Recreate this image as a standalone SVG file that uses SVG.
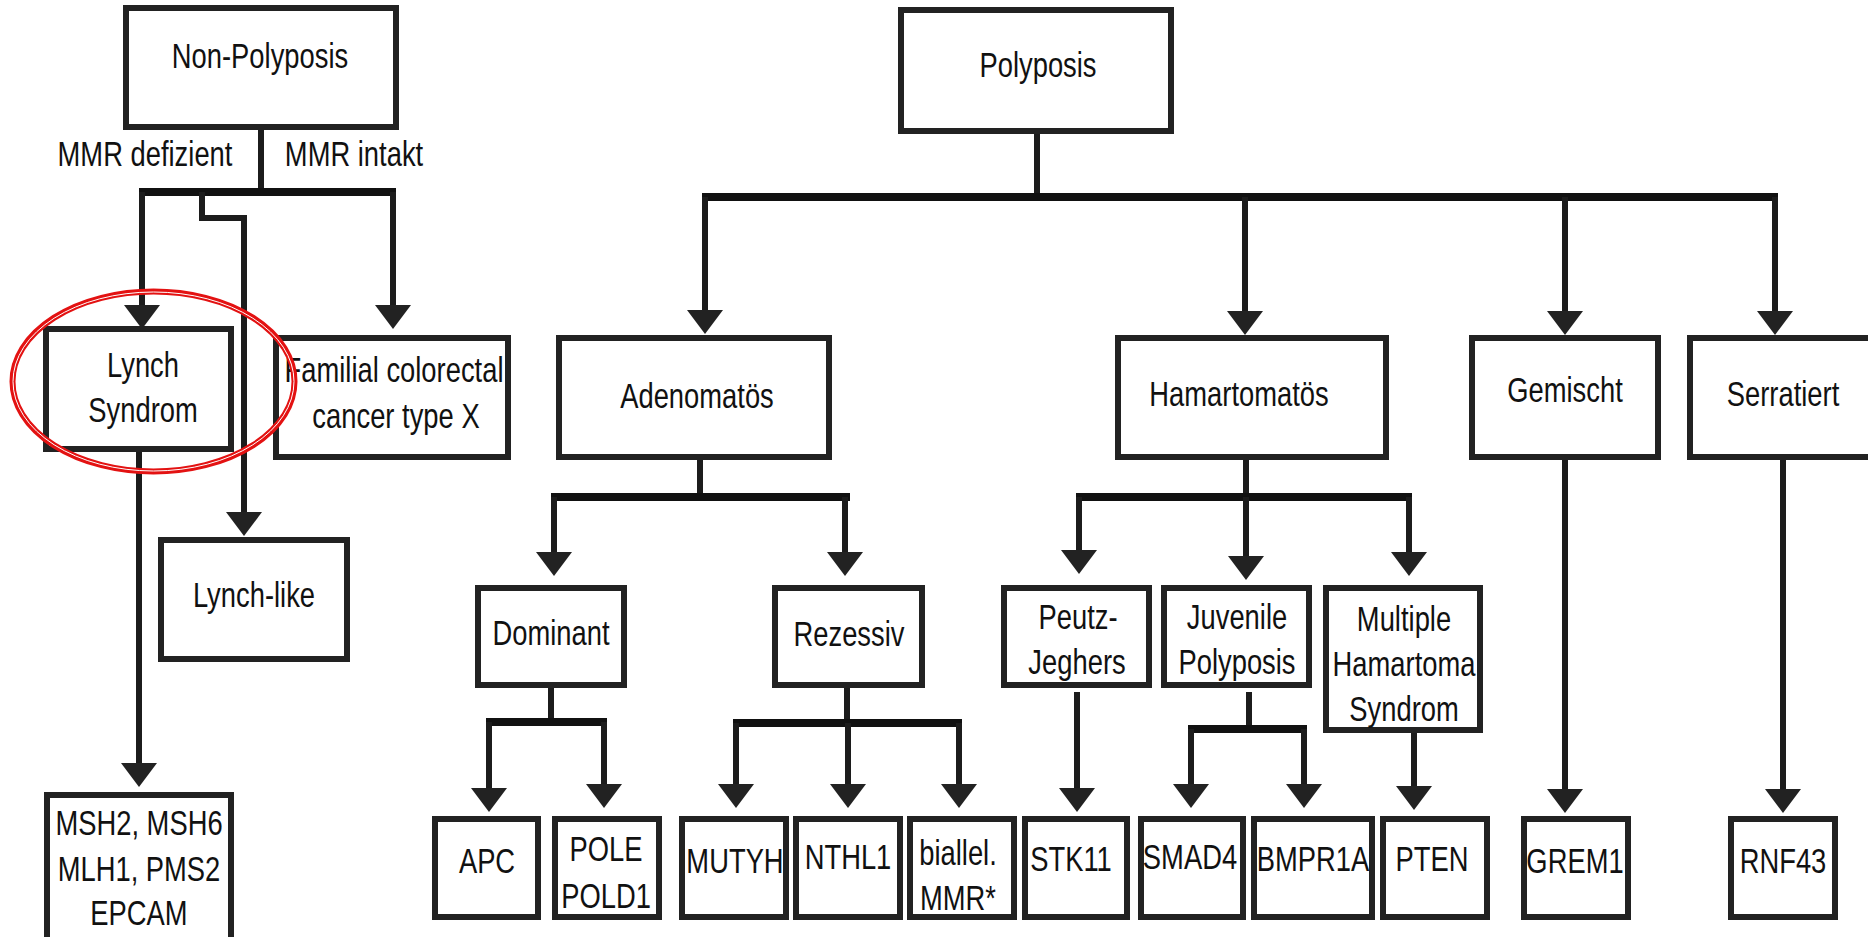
<svg xmlns="http://www.w3.org/2000/svg" width="1868" height="937" viewBox="0 0 1868 937">
<style>
.box{fill:#fff;stroke:#222;stroke-width:6}
.c{fill:none;stroke:#1c1c1c;stroke-width:6}
.bar{fill:none;stroke:#111;stroke-width:8}
.a{fill:none;stroke:#1c1c1c;stroke-width:6;marker-end:url(#ah)}
text{font-family:"Liberation Sans",Arial,sans-serif;font-size:36px;fill:#111;text-anchor:middle}
</style>
<defs>
<marker id="ah" markerUnits="strokeWidth" markerWidth="4" markerHeight="6" viewBox="0 0 4 6" refX="0" refY="3" orient="auto">
<path d="M0,0 L4,3 L0,6 z" fill="#222"/>
</marker>
</defs>
<rect width="1868" height="937" fill="#fff"/>
<g id="connectors">
<path class="c" d="M261,130 V192"/>
<path class="bar" d="M139,192 H396"/>
<path class="a" d="M142,192 V305"/>
<path class="a" d="M202,192 V218 H244 V512"/>
<path class="a" d="M393,192 V305"/>
<path class="a" d="M139,452 V763"/>
<path class="c" d="M1037,134 V197"/>
<path class="bar" d="M702,197 H1778"/>
<path class="a" d="M705,197 V310"/>
<path class="a" d="M1245,197 V311"/>
<path class="a" d="M1565,197 V311"/>
<path class="a" d="M1775,197 V311"/>
<path class="c" d="M700,460 V497"/>
<path class="bar" d="M551,497 H850"/>
<path class="a" d="M554,497 V552"/>
<path class="a" d="M845,497 V552"/>
<path class="c" d="M551,688 V722"/>
<path class="bar" d="M486,722 H607"/>
<path class="a" d="M489,722 V788"/>
<path class="a" d="M604,722 V784"/>
<path class="c" d="M847,688 V723"/>
<path class="bar" d="M733,723 H962"/>
<path class="a" d="M736,723 V784"/>
<path class="a" d="M848,723 V784"/>
<path class="a" d="M959,723 V784"/>
<path class="c" d="M1246,460 V497"/>
<path class="bar" d="M1076,497 H1412"/>
<path class="a" d="M1079,497 V550"/>
<path class="a" d="M1246,497 V556"/>
<path class="a" d="M1409,497 V552"/>
<path class="a" d="M1077,692 V788"/>
<path class="c" d="M1249,692 V729"/>
<path class="bar" d="M1188,729 H1307"/>
<path class="a" d="M1191,729 V784"/>
<path class="a" d="M1304,729 V784"/>
<path class="a" d="M1414,733 V786"/>
<path class="a" d="M1565,460 V789"/>
<path class="a" d="M1783,460 V789"/>
</g>
<g id="n-nonpolyposis"><rect class="box" x="126" y="8" width="270" height="119"/>
<text transform="translate(260,68) scale(0.76,1)">Non-Polyposis</text></g>
<g id="l-mmr-def"><text transform="translate(145,166) scale(0.76,1)">MMR defizient</text></g>
<g id="l-mmr-int"><text transform="translate(354,166) scale(0.76,1)">MMR intakt</text></g>
<g id="n-polyposis"><rect class="box" x="901" y="10" width="270" height="121"/>
<text transform="translate(1038,77) scale(0.76,1)">Polyposis</text></g>
<g id="n-lynch"><rect class="box" x="46" y="329" width="185" height="120"/>
<text transform="translate(143,377) scale(0.76,1)">Lynch</text>
<text transform="translate(143,422) scale(0.76,1)">Syndrom</text></g>
<g id="n-familial"><rect class="box" x="276" y="338" width="232" height="119"/>
<text transform="translate(394,382) scale(0.76,1)">Familial colorectal</text>
<text transform="translate(396,428) scale(0.76,1)">cancer type X</text></g>
<g id="n-lynchlike"><rect class="box" x="161" y="540" width="186" height="119"/>
<text transform="translate(254,607) scale(0.76,1)">Lynch-like</text></g>
<g id="n-msh"><rect class="box" x="47" y="795" width="184" height="170"/>
<text transform="translate(139,835) scale(0.76,1)">MSH2, MSH6</text>
<text transform="translate(139,881) scale(0.76,1)">MLH1, PMS2</text>
<text transform="translate(139,925) scale(0.76,1)">EPCAM</text></g>
<g id="n-adenomatos"><rect class="box" x="559" y="338" width="270" height="119"/>
<text transform="translate(697,408) scale(0.76,1)">Adenomatös</text></g>
<g id="n-hamartomatos"><rect class="box" x="1118" y="338" width="268" height="119"/>
<text transform="translate(1239,406) scale(0.76,1)">Hamartomatös</text></g>
<g id="n-gemischt"><rect class="box" x="1472" y="338" width="186" height="119"/>
<text transform="translate(1565,402) scale(0.76,1)">Gemischt</text></g>
<g id="n-serratiert"><rect class="box" x="1690" y="338" width="190" height="119"/>
<text transform="translate(1783,406) scale(0.76,1)">Serratiert</text></g>
<g id="n-dominant"><rect class="box" x="478" y="588" width="146" height="97"/>
<text transform="translate(551,645) scale(0.76,1)">Dominant</text></g>
<g id="n-rezessiv"><rect class="box" x="775" y="588" width="147" height="97"/>
<text transform="translate(849,646) scale(0.76,1)">Rezessiv</text></g>
<g id="n-peutz"><rect class="box" x="1004" y="588" width="145" height="97"/>
<text transform="translate(1078,629) scale(0.76,1)">Peutz-</text>
<text transform="translate(1077,674) scale(0.76,1)">Jeghers</text></g>
<g id="n-juvenile"><rect class="box" x="1164" y="588" width="145" height="97"/>
<text transform="translate(1237,629) scale(0.76,1)">Juvenile</text>
<text transform="translate(1237,674) scale(0.76,1)">Polyposis</text></g>
<g id="n-multiple"><rect class="box" x="1326" y="588" width="154" height="142"/>
<text transform="translate(1404,631) scale(0.76,1)">Multiple</text>
<text transform="translate(1404,676) scale(0.76,1)">Hamartoma</text>
<text transform="translate(1404,721) scale(0.76,1)">Syndrom</text></g>
<g id="n-apc"><rect class="box" x="435" y="819" width="103" height="98"/>
<text transform="translate(487,873) scale(0.76,1)">APC</text></g>
<g id="n-pole"><rect class="box" x="555" y="819" width="104" height="98"/>
<text transform="translate(606,861) scale(0.76,1)">POLE</text>
<text transform="translate(606,908) scale(0.76,1)">POLD1</text></g>
<g id="n-mutyh"><rect class="box" x="682" y="819" width="104" height="98"/>
<text transform="translate(735,873) scale(0.76,1)">MUTYH</text></g>
<g id="n-nthl1"><rect class="box" x="796" y="819" width="104" height="98"/>
<text transform="translate(848,869) scale(0.76,1)">NTHL1</text></g>
<g id="n-biallel"><rect class="box" x="910" y="819" width="104" height="98"/>
<text transform="translate(958,865) scale(0.76,1)">biallel.</text>
<text transform="translate(958,910) scale(0.76,1)">MMR*</text></g>
<g id="n-stk11"><rect class="box" x="1025" y="819" width="102" height="98"/>
<text transform="translate(1071,871) scale(0.76,1)">STK11</text></g>
<g id="n-smad4"><rect class="box" x="1141" y="819" width="102" height="98"/>
<text transform="translate(1190,869) scale(0.76,1)">SMAD4</text></g>
<g id="n-bmpr1a"><rect class="box" x="1254" y="819" width="118" height="98"/>
<text transform="translate(1313,871) scale(0.76,1)">BMPR1A</text></g>
<g id="n-pten"><rect class="box" x="1383" y="819" width="104" height="98"/>
<text transform="translate(1432,871) scale(0.76,1)">PTEN</text></g>
<g id="n-grem1"><rect class="box" x="1524" y="819" width="104" height="98"/>
<text transform="translate(1575,873) scale(0.76,1)">GREM1</text></g>
<g id="n-rnf43"><rect class="box" x="1731" y="819" width="104" height="98"/>
<text transform="translate(1783,873) scale(0.76,1)">RNF43</text></g>
<g id="highlight">
<ellipse cx="153.5" cy="381.5" rx="141" ry="90" fill="none" stroke="#e31212" stroke-width="6"/>
<ellipse cx="153.5" cy="381.5" rx="140.5" ry="89.5" fill="none" stroke="#fff" stroke-width="1"/>
</g>
</svg>
